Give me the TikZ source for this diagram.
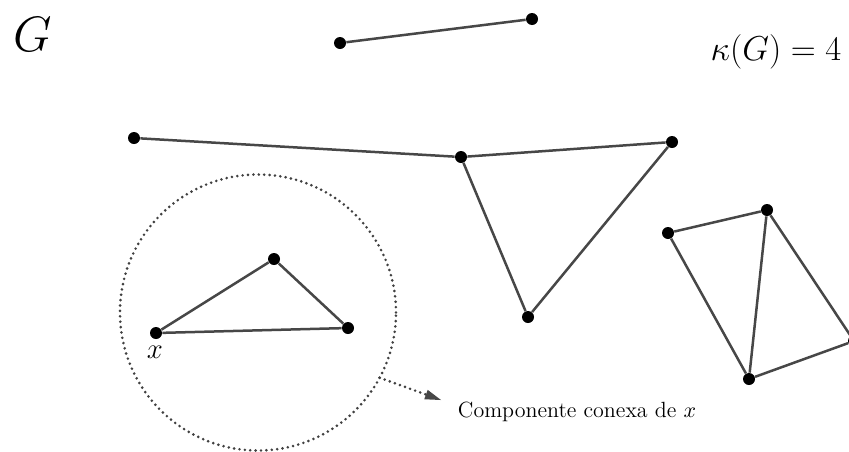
\documentclass[tikz,border=0pt]{standalone}
\usetikzlibrary{arrows.meta,calc}
\begin{document}
\begin{tikzpicture}[x=0.5pt,y=-0.5pt,
  vtx/.style={circle,fill=black,inner sep=0pt,minimum size=6pt},
  edge/.style={draw=black!72,line width=1.25pt},
  dotline/.style={draw=black!75,line width=1.45pt,line cap=round,dash pattern=on 0pt off 2.7pt},
  lbl/.style={inner sep=0pt}]
\useasboundingbox (0,0) rectangle (849,451);
\clip (0,0) rectangle (849,451);
% vertices
\node[vtx] (a) at (340,43) {};
\node[vtx] (b) at (532,19) {};
\node[vtx] (c) at (134,138) {};
\node[vtx] (d) at (461,157) {};
\node[vtx] (e) at (672,142) {};
\node[vtx] (f) at (528,317) {};
\node[vtx] (g) at (274,259) {};
\node[vtx] (h) at (348,328) {};
\node[vtx] (x) at (156,333) {};
\node[vtx] (i) at (668,233) {};
\node[vtx] (j) at (767,210) {};
\node[vtx] (k) at (749,379) {};
\node[vtx] (l) at (854,341) {};
% edges
\draw[edge] (a) -- (b);
\draw[edge] (c) -- (d);
\draw[edge] (d) -- (e);
\draw[edge] (d) -- (f);
\draw[edge] (e) -- (f);
\draw[edge] (x) -- (g);
\draw[edge] (g) -- (h);
\draw[edge] (x) -- (h);
\draw[edge] (i) -- (j);
\draw[edge] (i) -- (k);
\draw[edge] (j) -- (k);
\draw[edge] (j) -- (l);
\draw[edge] (k) -- (l);
% component circle
\coordinate (cc) at (258,312.5);
\draw[dotline] (cc) circle[radius=69pt];
\coordinate (as) at ($(cc)+(-28.2:69pt)$);
\node[lbl] (comp) at (577,412) {\fontsize{11}{13}\selectfont Componente conexa de $x$};
\coordinate (ae) at (441,400);
\draw[dotline,-{Triangle[length=8pt,width=5pt,fill=black!72,line width=0pt,line cap=butt]}] (as) -- (ae);
% labels
\node[lbl] (xl) at (155,352) {\fontsize{14}{16}\selectfont $x$};
\node[lbl] (G) at (33,34) {\fontsize{30}{35}\selectfont $G$};
\node[lbl] (kap) at (776,52) {\fontsize{18}{21}\selectfont $\kappa(G)=4$};
\end{tikzpicture}
\end{document}
